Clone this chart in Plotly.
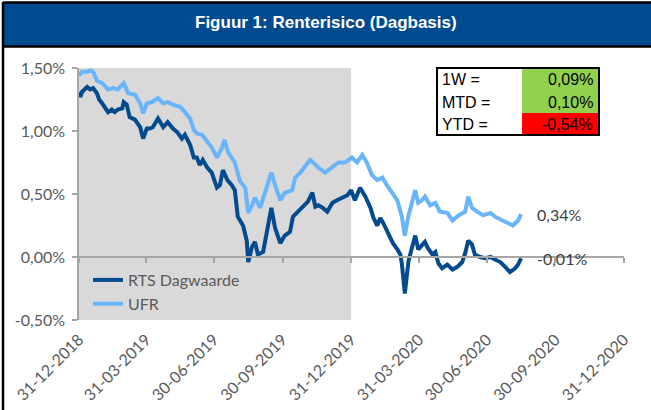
import plotly.graph_objects as go

# ---------------- data ----------------
rts_dates = [
    "2018-12-31", "2019-01-02", "2019-01-04", "2019-01-11", "2019-01-15", "2019-01-19",
    "2019-01-24", "2019-01-27", "2019-01-31", "2019-02-04", "2019-02-08", "2019-02-13",
    "2019-02-17", "2019-02-21", "2019-02-27", "2019-03-01", "2019-03-05", "2019-03-09",
    "2019-03-16", "2019-03-23", "2019-03-27", "2019-04-01", "2019-04-05", "2019-04-09",
    "2019-04-16", "2019-04-23", "2019-04-29", "2019-05-06", "2019-05-12", "2019-05-18",
    "2019-05-22", "2019-05-29", "2019-06-03", "2019-06-07", "2019-06-11", "2019-06-15",
    "2019-06-21", "2019-06-27", "2019-07-04", "2019-07-08", "2019-07-12", "2019-07-18",
    "2019-07-24", "2019-07-28", "2019-08-01", "2019-08-08", "2019-08-13", "2019-08-15",
    "2019-08-20", "2019-08-24", "2019-08-28", "2019-09-04", "2019-09-09", "2019-09-15",
    "2019-09-20", "2019-09-27", "2019-10-03", "2019-10-10", "2019-10-14", "2019-10-21",
    "2019-10-28", "2019-11-03", "2019-11-09", "2019-11-13", "2019-11-17", "2019-11-23",
    "2019-11-29", "2019-12-06", "2019-12-12", "2019-12-19", "2019-12-26", "2019-12-31",
    "2020-01-05", "2020-01-12", "2020-01-19", "2020-01-26", "2020-01-30", "2020-02-04",
    "2020-02-08", "2020-02-12", "2020-02-19", "2020-02-25", "2020-03-02", "2020-03-06",
    "2020-03-08", "2020-03-12", "2020-03-17", "2020-03-22", "2020-03-26", "2020-03-30",
    "2020-04-04", "2020-04-08", "2020-04-12", "2020-04-18", "2020-04-22", "2020-04-26",
    "2020-05-01", "2020-05-08", "2020-05-15", "2020-05-21", "2020-05-28", "2020-06-01",
    "2020-06-05", "2020-06-10", "2020-06-14", "2020-06-21", "2020-06-28", "2020-07-05",
    "2020-07-11", "2020-07-18", "2020-07-25", "2020-07-31", "2020-08-07", "2020-08-11",
    "2020-08-15",
]
rts_values = [
    1.31, 1.27, 1.31, 1.35, 1.33, 1.34,
    1.30, 1.25, 1.22, 1.19, 1.15, 1.17,
    1.15, 1.17, 1.18, 1.23, 1.21, 1.11,
    1.09, 1.03, 0.94, 1.02, 1.02, 1.03,
    1.10, 1.03, 1.07, 1.02, 0.99, 0.94,
    0.97, 0.89, 0.79, 0.79, 0.73, 0.77,
    0.71, 0.67, 0.55, 0.57, 0.69, 0.61,
    0.57, 0.53, 0.32, 0.25, 0.13, -0.04,
    0.08, 0.12, 0.02, 0.04, 0.21, 0.39,
    0.23, 0.11, 0.17, 0.20, 0.32, 0.36,
    0.41, 0.44, 0.51, 0.40, 0.41, 0.39,
    0.36, 0.43, 0.45, 0.47, 0.49, 0.53,
    0.45, 0.55, 0.48, 0.39, 0.31, 0.25,
    0.31, 0.27, 0.19, 0.11, 0.06, 0.02,
    -0.05, -0.29, -0.03, 0.07, 0.17, 0.06,
    0.10, 0.12, 0.07, 0.02, 0.04, -0.05,
    -0.09, -0.06, -0.10, -0.08, -0.04, 0.03,
    0.13, 0.10, 0.02, 0.00, -0.01, 0.00,
    -0.02, -0.04, -0.08, -0.12, -0.09, -0.06,
    -0.01,
]

ufr_dates = [
    "2018-12-31", "2019-01-04", "2019-01-11", "2019-01-15", "2019-01-19", "2019-01-24",
    "2019-01-31", "2019-02-08", "2019-02-15", "2019-02-21", "2019-03-01", "2019-03-07",
    "2019-03-16", "2019-03-23", "2019-03-27", "2019-04-01", "2019-04-08", "2019-04-16",
    "2019-04-23", "2019-04-29", "2019-05-06", "2019-05-16", "2019-05-22", "2019-05-29",
    "2019-06-03", "2019-06-07", "2019-06-14", "2019-06-21", "2019-06-27", "2019-07-04",
    "2019-07-11", "2019-07-14", "2019-07-19", "2019-07-28", "2019-08-04", "2019-08-11",
    "2019-08-15", "2019-08-20", "2019-08-24", "2019-08-31", "2019-09-07", "2019-09-15",
    "2019-09-20", "2019-09-27", "2019-10-03", "2019-10-13", "2019-10-17", "2019-10-24",
    "2019-10-29", "2019-11-06", "2019-11-10", "2019-11-17", "2019-11-26", "2019-12-06",
    "2019-12-14", "2019-12-23", "2020-01-01", "2020-01-08", "2020-01-15", "2020-01-21",
    "2020-01-28", "2020-02-04", "2020-02-11", "2020-02-17", "2020-02-24", "2020-03-02",
    "2020-03-08", "2020-03-12", "2020-03-17", "2020-03-22", "2020-03-26", "2020-03-30",
    "2020-04-04", "2020-04-08", "2020-04-15", "2020-04-22", "2020-04-28", "2020-05-08",
    "2020-05-15", "2020-05-23", "2020-06-01", "2020-06-05", "2020-06-10", "2020-06-17",
    "2020-06-25", "2020-07-05", "2020-07-11", "2020-07-21", "2020-07-29", "2020-08-04",
    "2020-08-11", "2020-08-15",
]
ufr_values = [
    1.44, 1.47, 1.47, 1.48, 1.47, 1.40,
    1.38, 1.33, 1.34, 1.33, 1.38, 1.30,
    1.29, 1.22, 1.14, 1.22, 1.23, 1.26,
    1.22, 1.23, 1.21, 1.19, 1.15, 1.10,
    1.01, 0.98, 0.97, 0.91, 0.87, 0.79,
    0.87, 0.93, 0.83, 0.75, 0.60, 0.55,
    0.35, 0.41, 0.47, 0.39, 0.51, 0.67,
    0.57, 0.45, 0.51, 0.53, 0.63, 0.67,
    0.71, 0.77, 0.75, 0.71, 0.67, 0.71,
    0.75, 0.75, 0.79, 0.75, 0.81, 0.75,
    0.65, 0.61, 0.63, 0.57, 0.51, 0.45,
    0.32, 0.17, 0.33, 0.45, 0.53, 0.43,
    0.45, 0.48, 0.41, 0.43, 0.36, 0.35,
    0.29, 0.33, 0.36, 0.48, 0.39, 0.36,
    0.33, 0.35, 0.32, 0.29, 0.27, 0.25,
    0.29, 0.34,
]

tick_dates = ["2018-12-31", "2019-03-31", "2019-06-30", "2019-09-30", "2019-12-31",
              "2020-03-31", "2020-06-30", "2020-09-30", "2020-12-31"]
tick_labels = ["31-12-2018", "31-03-2019", "30-06-2019", "30-09-2019", "31-12-2019",
               "31-03-2020", "30-06-2020", "30-09-2020", "31-12-2020"]
y_ticks = [-0.5, 0.0, 0.5, 1.0, 1.5]

shade_period = ["2018-12-31", "2019-12-31"]

table_labels = ["1W =", "MTD =", "YTD ="]
table_values = [0.09, 0.10, -0.54]

title_text = "Figuur 1: Renterisico (Dagbasis)"

# ---------------- layout helpers ----------------
W, H = 651, 410
ML, MR, MT, MB = 79, 27, 68, 90
PW, PH = W - ML - MR, H - MT - MB


def px(x):
    return (x - ML) / PW


def py(y):
    return (H - MB - y) / PH


def pct(v):
    return f"{v:.2f}%".replace(".", ",")


DARK = "#034A8E"
LIGHT = "#69B4FB"
GREY_TXT = "#595959"
FONT = "Lato, 'Open Sans', sans-serif"

fig = go.Figure()
fig.add_trace(go.Scatter(x=rts_dates, y=rts_values, mode="lines", name="RTS Dagwaarde",
                         line=dict(color=DARK, width=4), legendgroup="a"))
fig.add_trace(go.Scatter(x=ufr_dates, y=ufr_values, mode="lines", name="UFR",
                         line=dict(color=LIGHT, width=4), legendgroup="b"))
# carrier trace for the axis line drawn at 0%
fig.add_trace(go.Scatter(x=tick_dates, y=[None] * len(tick_dates), xaxis="x2", yaxis="y",
                         mode="lines", showlegend=False, hoverinfo="skip"))

shapes = []
# shaded period
shapes.append(dict(type="rect", xref="x", yref="y", x0=shade_period[0], x1=shade_period[1],
                   y0=y_ticks[0], y1=y_ticks[-1], fillcolor="#D9D9D9",
                   line=dict(width=0), layer="below"))
# header bar
shapes.append(dict(type="rect", xref="paper", yref="paper", x0=px(3), x1=px(W),
                   y0=py(46), y1=py(3), fillcolor="#004A8F",
                   line=dict(width=0), layer="above"))
for yy in (2.5, 46.5):
    shapes.append(dict(type="line", xref="paper", yref="paper", x0=px(3), x1=px(W),
                       y0=py(yy), y1=py(yy), line=dict(color="black", width=2.5)))
# left border
shapes.append(dict(type="line", xref="paper", yref="paper", x0=px(3), x1=px(3),
                   y0=py(2), y1=py(H), line=dict(color="black", width=2.5)))

# table
tx0, tx1, tx2 = 437, 522, 599
row_tops = [68, 91, 113, 135]
annotations = []
for i, (lab, val) in enumerate(zip(table_labels, table_values)):
    y_top, y_bot = row_tops[i], row_tops[i + 1]
    shapes.append(dict(type="rect", xref="paper", yref="paper", x0=px(tx0), x1=px(tx1),
                       y0=py(y_bot), y1=py(y_top), fillcolor="white", line=dict(width=0)))
    shapes.append(dict(type="rect", xref="paper", yref="paper", x0=px(tx1), x1=px(tx2),
                       y0=py(y_bot), y1=py(y_top),
                       fillcolor="#92D050" if val >= 0 else "#FF0000", line=dict(width=0)))
    yc = py((y_top + y_bot) / 2)
    annotations.append(dict(xref="paper", yref="paper", x=px(tx0 + 3), y=yc, text=lab,
                            xanchor="left", yanchor="middle", showarrow=False,
                            font=dict(family="Liberation Sans, Arial", size=16, color="black")))
    annotations.append(dict(xref="paper", yref="paper", x=px(tx2 - 4), y=yc, text=pct(val),
                            xanchor="right", yanchor="middle", showarrow=False,
                            font=dict(family="Liberation Sans, Arial", size=16, color="black")))
shapes.append(dict(type="rect", xref="paper", yref="paper", x0=px(tx0), x1=px(tx2),
                   y0=py(row_tops[-1]), y1=py(row_tops[0]), fillcolor="rgba(0,0,0,0)",
                   line=dict(color="black", width=2)))

# title
annotations.append(dict(xref="paper", yref="paper", x=px(326), y=py(23), text=f"<b>{title_text}</b>",
                        xanchor="center", yanchor="middle", showarrow=False,
                        font=dict(family="Liberation Sans, Arial", size=17, color="white")))

# end labels
for d, v in ((rts_dates[-1], rts_values[-1]), (ufr_dates[-1], ufr_values[-1])):
    annotations.append(dict(xref="x", yref="y", x=d, y=v, text=pct(v), xanchor="left",
                            yanchor="middle", xshift=14, showarrow=False,
                            font=dict(family=FONT, size=16, color="#404040")))

fig.update_layout(
    width=W, height=H, autosize=False,
    margin=dict(l=ML, r=MR, t=MT, b=MB, pad=0, autoexpand=False),
    paper_bgcolor="white", plot_bgcolor="white",
    showlegend=True,
    legend=dict(x=px(88), y=py(263), xanchor="left", yanchor="top",
                bgcolor="rgba(0,0,0,0)", font=dict(family=FONT, size=16, color=GREY_TXT),
                tracegroupgap=0),
    xaxis=dict(type="date", range=[tick_dates[0], tick_dates[-1]], tickmode="array",
               tickvals=tick_dates, ticktext=tick_labels, tickangle=-45, automargin=False,
               showline=False, showgrid=False, zeroline=False,
               ticks="outside", ticklen=3, tickcolor="rgba(0,0,0,0)",
               tickfont=dict(family=FONT, size=16, color=GREY_TXT)),
    xaxis2=dict(type="date", overlaying="x", anchor="free", automargin=False,
                position=(0 - y_ticks[0]) / (y_ticks[-1] - y_ticks[0]),
                range=[tick_dates[0], tick_dates[-1]], tickmode="array", tickvals=tick_dates,
                showticklabels=False, showgrid=False, zeroline=False,
                showline=True, linecolor="#A6A6A6", linewidth=1.5,
                ticks="outside", ticklen=5, tickcolor="#A6A6A6", tickwidth=1.5),
    yaxis=dict(range=[y_ticks[0], y_ticks[-1]], tickmode="array", tickvals=y_ticks,
               ticktext=[pct(v) for v in y_ticks], showline=True, linecolor="#A6A6A6",
               automargin=False,
               linewidth=1.5, ticks="outside", ticklen=5, tickcolor="#A6A6A6", tickwidth=1.5,
               showgrid=False, zeroline=False, ticklabelstandoff=4,
               tickfont=dict(family=FONT, size=16, color=GREY_TXT)),
    shapes=shapes,
    annotations=annotations,
)

fig.write_html(
    "out.html",
    config={"displayModeBar": False, "responsive": False},
    post_script="document.body.style.margin='0';document.body.style.overflow='hidden';"
                "document.documentElement.style.overflow='hidden';",
)
